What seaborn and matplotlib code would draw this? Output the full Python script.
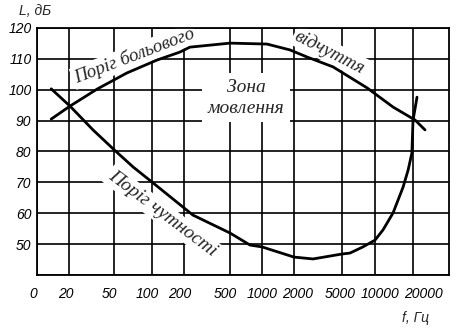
import numpy as np
import pandas as pd
import matplotlib
matplotlib.use("Agg")
import matplotlib.pyplot as plt
from matplotlib.transforms import ScaledTranslation
import seaborn as sns

# ---- data ----
pain_freq = [13.6, 20.4, 35.4, 63, 111, 183, 225, 500, 1114, 1833, 2566, 4217, 8470, 13900, 20800, 25200]
pain_db = [90.5, 94.7, 100.2, 105.4, 109.6, 112.2, 113.8, 115.1, 114.8, 112.9, 110.6, 107.4, 100.6, 94.4, 90.2, 87.0]

hear_freq = [13.6, 20.4, 32.6, 50, 70.8, 100, 239, 500, 771, 1000, 2000, 2875, 5000, 5910,
             7760, 10000, 11570, 13900, 16700, 18300, 19600, 20000, 21600]
hear_db = [100.3, 94.7, 87.0, 80.6, 75.0, 70.1, 59.4, 53.6, 49.7, 49.1, 45.8, 45.2, 46.8, 47.1,
           49.1, 51.3, 54.6, 60.1, 68.5, 74.0, 79.5, 90.0, 97.6]

x_ticks = [10, 20, 50, 100, 200, 500, 1000, 2000, 5000, 10000, 20000]
x_labels = ["0", "20", "50", "100", "200", "500", "1000", "2000", "5000", "10000", "20000"]
y_ticks = [40, 50, 60, 70, 80, 90, 100, 110, 120]
y_labels = ["", "50", "60", "70", "80", "90", "100", "110", "120"]

# ---- hand-drawn axis spacing of the original grid (layout only) ----
grid_logf = np.log10([10, 20, 50, 100, 200, 500, 1000, 2000, 5000, 10000, 20000, 40000])
grid_pos = np.array([37, 69, 114, 152, 184, 230, 262, 294, 342, 375, 413, 449], dtype=float)
# hand-lettered label offsets (pixels) relative to the grid lines
label_dx = [-4, -3, -5, -5, -4, -5, 0, 4, -2, 5, 10]


def fwd(f):
    f = np.asarray(f, dtype=float)
    return np.interp(np.log10(np.clip(f, 1e-6, None)), grid_logf, grid_pos)


def inv(p):
    p = np.asarray(p, dtype=float)
    return 10 ** np.interp(p, grid_pos, grid_logf)


sns.set_style("white")
plt.rcParams["font.family"] = ["Liberation Sans", "DejaVu Sans"]

fig = plt.figure(figsize=(4.66, 3.28), dpi=100)
ax = fig.add_axes([37 / 466, 1 - 275 / 328, (449 - 37) / 466, (275 - 28) / 328])

pain = pd.DataFrame({"f": pain_freq, "L": pain_db})
hear = pd.DataFrame({"f": hear_freq, "L": hear_db})

sns.lineplot(data=pain, x="f", y="L", estimator=None, sort=False, color="black", linewidth=2, ax=ax, zorder=3)
sns.lineplot(data=hear, x="f", y="L", estimator=None, sort=False, color="black", linewidth=2, ax=ax, zorder=3)

ax.set_xscale("function", functions=(fwd, inv))
ax.set_xlim(10, 40000)
ax.set_ylim(40, 120)
ax.set_xticks(x_ticks)
ax.set_xticklabels(x_labels, fontstyle="italic", fontsize=10)
ax.set_yticks(y_ticks)
ax.set_yticklabels(y_labels, fontstyle="italic", fontsize=10)
ax.minorticks_off()
ax.set_xlabel("")
ax.set_ylabel("")
ax.tick_params(axis="both", length=0, colors="black")
ax.tick_params(axis="x", pad=9)
ax.tick_params(axis="y", pad=4)
ax.grid(True, color="black", linewidth=1.2)
ax.set_axisbelow(True)
for s in ax.spines.values():
    s.set_color("black")
    s.set_linewidth(1.3)

for lab, dx in zip(ax.get_xticklabels(), label_dx):
    lab.set_transform(lab.get_transform() + ScaledTranslation(dx / 100, 0, fig.dpi_scale_trans))

box = dict(facecolor="white", edgecolor="none", pad=1.5)
serif = ["Liberation Serif", "DejaVu Serif"]
ax.text(0.236, 0.887, "Поріг больового", transform=ax.transAxes, rotation=21, ha="center", va="center",
        fontsize=13.5, fontstyle="italic", family=serif, bbox=box, zorder=2)
ax.text(0.711, 0.902, "відчуття", transform=ax.transAxes, rotation=-27, ha="center", va="center",
        fontsize=13.5, fontstyle="italic", family=serif, bbox=box, zorder=2)
ax.text(0.507, 0.718, "Зона\nмовлення", transform=ax.transAxes, ha="center", va="center",
        fontsize=14, fontstyle="italic", family=serif, linespacing=1.3,
        bbox=dict(facecolor="white", edgecolor="none", pad=4), zorder=2)
ax.text(0.304, 0.249, "Поріг чутності", transform=ax.transAxes, rotation=-37, ha="center", va="center",
        fontsize=14, fontstyle="italic", family=serif, bbox=box, zorder=2)

fig.text(35 / 466, 1 - 11 / 328, "L, дБ", ha="center", va="center", fontsize=10, fontstyle="italic")
fig.text(415 / 466, 1 - 318 / 328, "f, Гц", ha="center", va="center", fontsize=10, fontstyle="italic")

fig.savefig("out.png", dpi=100, facecolor="white")
